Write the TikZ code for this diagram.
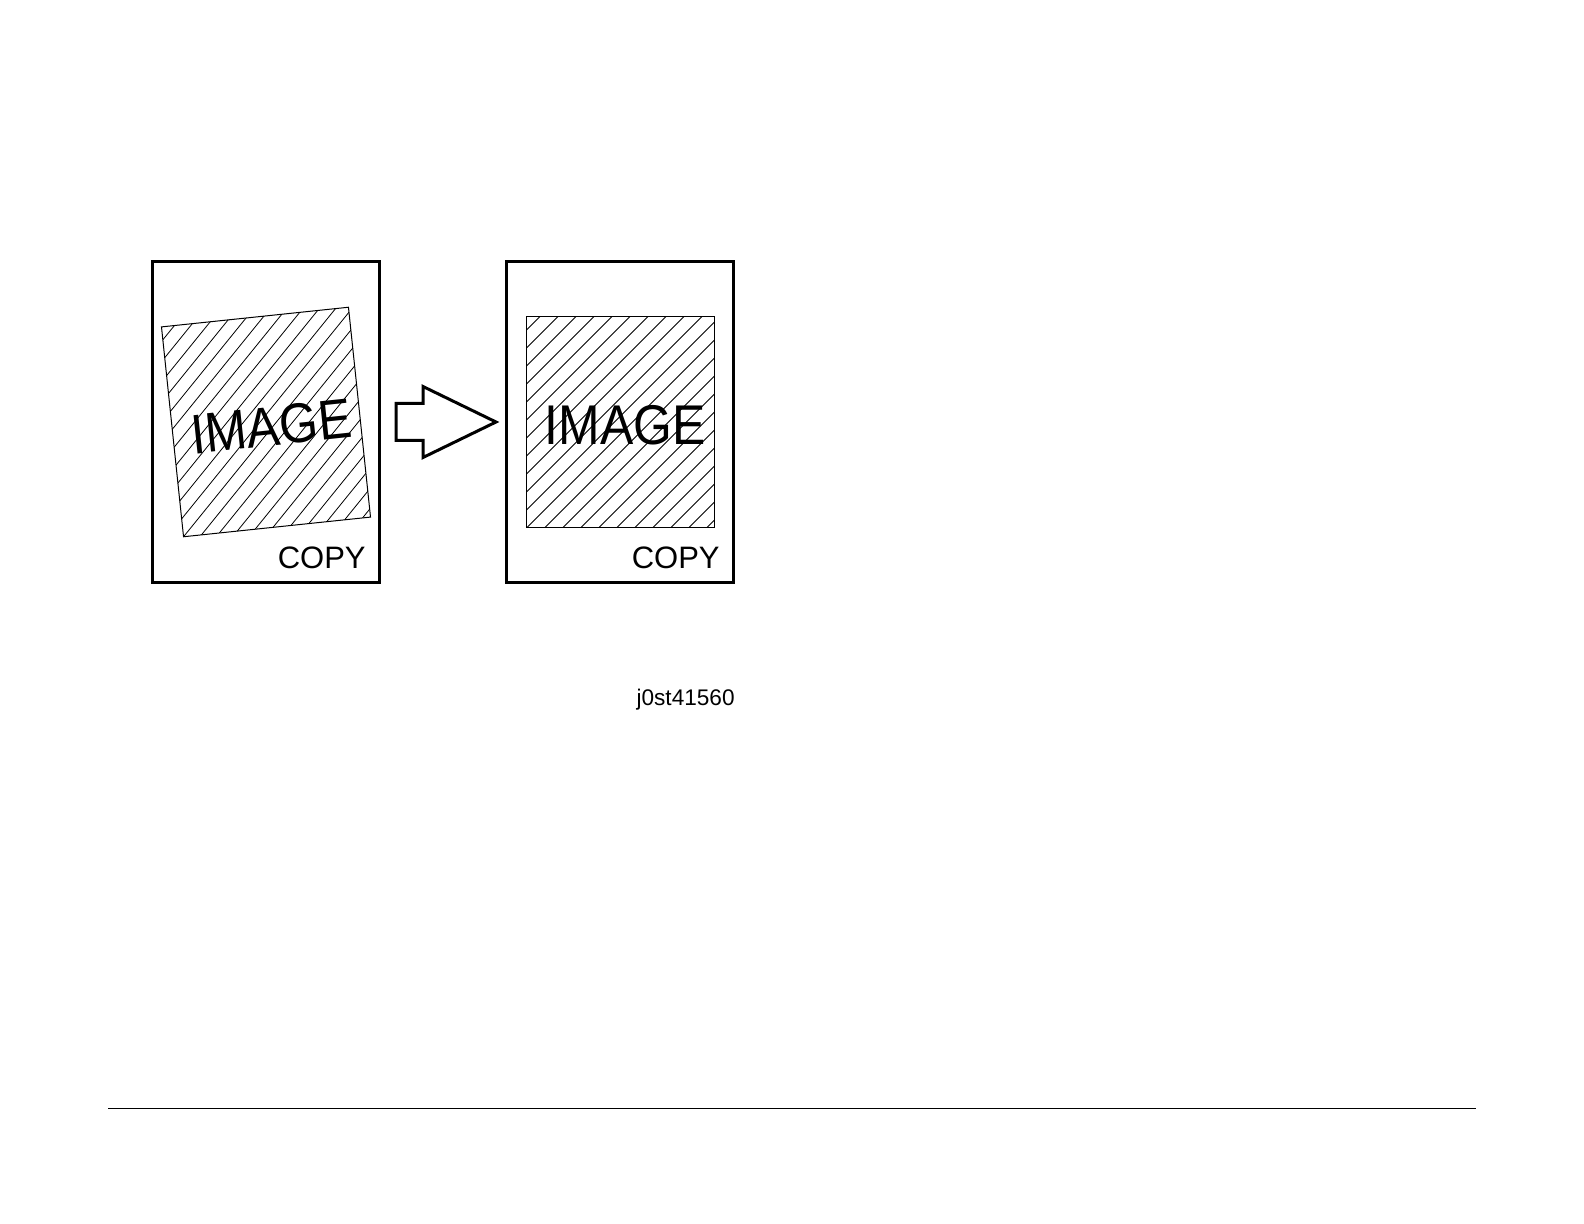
\documentclass[tikz,border=0pt]{standalone}
\usepackage{fontspec}
\setmainfont{Liberation Sans}
\usetikzlibrary{positioning}

\begin{document}
\begin{tikzpicture}[x=0.5pt, y=-0.5pt,
                    line join=miter,
                    page/.style={draw, line width=1.5pt, minimum width=113.5pt,
                                 minimum height=160pt, inner sep=0pt},
                    area/.style={draw, line width=0.5pt},
                    hatch/.style={line width=0.4pt}]
    \tikzstyle{imagetext}=[font=\fontsize{28}{28}\selectfont, xscale=0.89,
                           transform shape, inner sep=0pt]
    \tikzstyle{copytext}=[font=\fontsize{15.5}{15.5}\selectfont, inner sep=0pt,
                          anchor=base east]
    \tikzstyle{figid}=[font=\fontsize{11.3}{11.3}\selectfont, inner sep=0pt,
                       anchor=base east]

    \useasboundingbox (0,0) rectangle (1584,1224);

    % two pages: skewed original, corrected copy
    \node[page] (skewed) at (265.5,422) {};
    \node[page] (straight) at (619.5,422) {};

    % hatched image areas
    \foreach \cx/\cy/\ang/\tx/\ty/\nm in {266/422/6/5/5/skewimg, 620.5/422.5/0/4.5/3/straightimg} {
        \begin{scope}[shift={(\cx,\cy)}, rotate=\ang]
            \begin{scope}
                \clip (-94,-105.5) rectangle (94,105.5);
                \foreach \k in {-310,-292,...,100}
                    \draw[hatch] (\k,105.5) -- ++(230,-230);
            \end{scope}
            \draw[area] (-94,-105.5) rectangle (94,105.5);
            \node[imagetext] (\nm) at (\tx,\ty) {IMAGE};
        \end{scope}
    }

    \node[copytext] (copyA) at (366,568) {COPY};
    \node[copytext] (copyB) at (720,568) {COPY};

    % block arrow between the pages
    \coordinate (tip) at (496,422);
    \draw[line width=1.5pt]
        (396,403.5) -- (423,403.5) -- (423,386.5) -- (tip)
        -- (423,457.5) -- (423,440.5) -- (396,440.5) -- cycle;

    \node[figid] (figno) at (735,705) {j0st41560};

    % footer rule
    \coordinate (ruleL) at (108,1108.5);
    \coordinate (ruleR) at (1476,1108.5);
    \draw[line width=0.6pt] (ruleL) -- (ruleR);
\end{tikzpicture}
\end{document}
